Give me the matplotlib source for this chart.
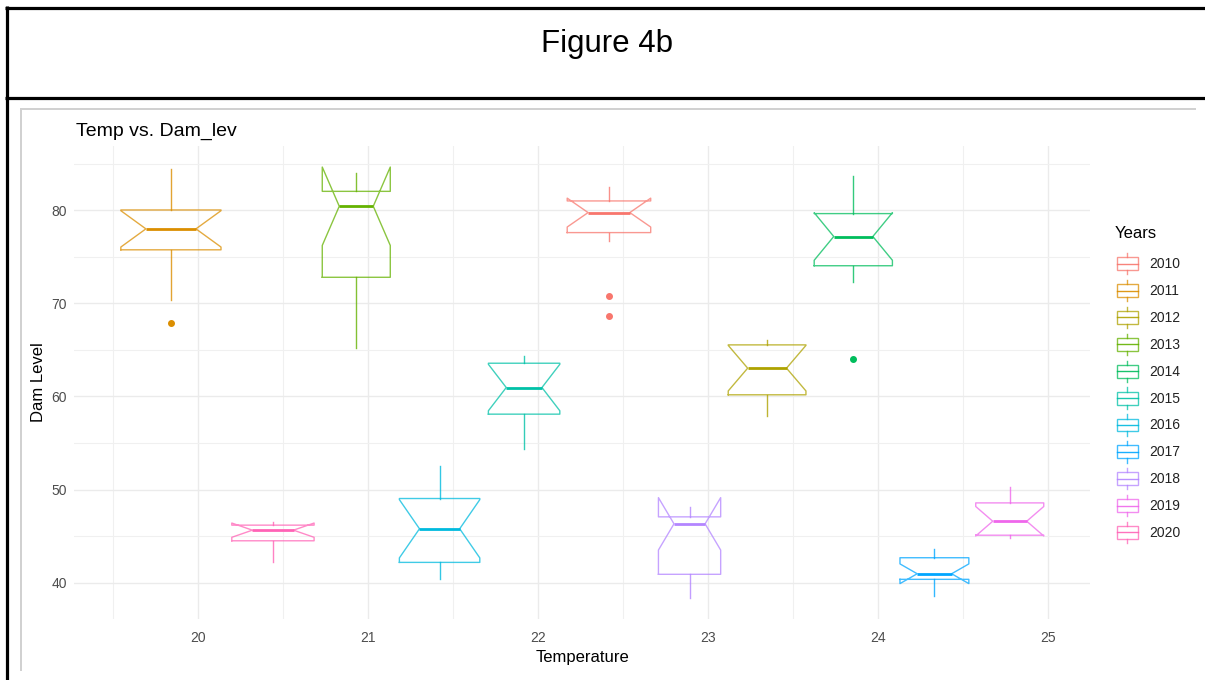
import numpy as np
import matplotlib.pyplot as plt
from matplotlib.lines import Line2D
from matplotlib.patches import Rectangle
from matplotlib.legend_handler import HandlerBase
from matplotlib.ticker import MultipleLocator

plt.rcParams['font.family'] = ['Liberation Sans', 'DejaVu Sans']

# monthly dam levels summarised per year, placed at the year's mean temperature
years = [2010, 2011, 2012, 2013, 2014, 2015, 2016, 2017, 2018, 2019, 2020]
temp = [22.416, 19.84, 23.346, 20.93, 23.853, 21.917, 21.42, 24.33, 22.89, 24.773, 20.44]
temp_span = [0.491, 0.589, 0.457, 0.40, 0.46, 0.42, 0.473, 0.405, 0.366, 0.40, 0.484]
med = [79.75, 78.0, 63.04, 80.43, 77.18, 60.96, 45.79, 40.96, 46.32, 46.6, 45.64]
q1 = [77.6, 75.75, 60.18, 72.8, 74.04, 58.1, 42.18, 40.36, 40.9, 45.1, 44.5]
q3 = [81.0, 80.03, 65.54, 82.03, 79.64, 63.57, 49.04, 42.68, 47.07, 48.57, 46.18]
whislo = [76.68, 70.4, 57.86, 65.2, 72.32, 54.36, 40.36, 38.57, 38.4, 44.75, 42.2]
whishi = [82.5, 84.4, 66.07, 84.0, 83.71, 64.36, 52.57, 43.57, 48.1, 50.29, 46.5]
outliers = [[70.79, 68.68], [67.85], [], [], [64.07], [], [], [], [], [], []]
n_months = 12

colours = ['#F8766D', '#DB8E00', '#AEA200', '#64B200', '#00BD5C', '#00C1A7',
           '#00BADE', '#00A6FF', '#B385FF', '#EF67EB', '#FF63B6']

W, H = 1205, 680


class BoxKey(HandlerBase):
    def create_artists(self, legend, orig_handle, xdescent, ydescent,
                       width, height, fontsize, trans):
        c = orig_handle.get_color()
        x0, y0 = -xdescent, -ydescent
        cx = x0 + width / 2
        b0, b1 = y0 + 0.2 * height, y0 + 0.8 * height
        arts = [
            Rectangle((x0, b0), width, b1 - b0, fill=False, ec=c, lw=1.0, alpha=0.75),
            Line2D([x0, x0 + width], [y0 + height / 2] * 2, color=c, lw=1.0, alpha=0.9),
            Line2D([cx, cx], [y0, b0], color=c, lw=1.0, alpha=0.75),
            Line2D([cx, cx], [b1, y0 + height], color=c, lw=1.0, alpha=0.75),
        ]
        for a in arts:
            a.set_transform(trans)
        return arts


fig = plt.figure(figsize=(W / 100, H / 100), dpi=100)
ax = fig.add_axes([74 / W, 1 - 619 / H, (1090 - 74) / W, (619 - 146) / H])

for i, yr in enumerate(years):
    half = 1.58 * (q3[i] - q1[i]) / np.sqrt(n_months)
    st = dict(med=med[i], q1=q1[i], q3=q3[i], whislo=whislo[i], whishi=whishi[i],
              cilo=med[i] - half, cihi=med[i] + half, fliers=outliers[i])
    c = colours[i]
    ax.bxp([st], positions=[temp[i]], widths=[temp_span[i]], shownotches=True,
           showcaps=False, manage_ticks=False,
           boxprops=dict(color=c, lw=1.0, alpha=0.75),
           whiskerprops=dict(color=c, lw=1.0, alpha=0.8),
           medianprops=dict(color=c, lw=2.0),
           flierprops=dict(marker='o', markerfacecolor=c, markeredgecolor=c,
                           markersize=4, linestyle='none'))

ax.set_xlim(19.27, 25.245)
ax.set_ylim(36.1, 86.9)
ax.xaxis.set_major_locator(MultipleLocator(1))
ax.xaxis.set_minor_locator(MultipleLocator(0.5))
ax.yaxis.set_major_locator(MultipleLocator(10))
ax.yaxis.set_minor_locator(MultipleLocator(5))
ax.grid(which='major', color='#EBEBEB', lw=1.0)
ax.grid(which='minor', color='#F0F0F0', lw=0.8)
ax.set_axisbelow(True)
for s in ax.spines.values():
    s.set_visible(False)
ax.tick_params(which='both', length=0, labelsize=10, labelcolor='#4D4D4D')
ax.tick_params(axis='x', pad=9)
ax.tick_params(axis='y', pad=5)
ax.set_xlabel('Temperature', fontsize=12, labelpad=3)
ax.set_ylabel('Dam Level', fontsize=12, labelpad=4)

fig.text(76 / W, 1 - 136 / H, 'Temp vs. Dam_lev', fontsize=14, va='baseline')
fig.text(607 / W, 1 - 52 / H, 'Figure 4b', fontsize=22.5, ha='center', va='baseline')

# legend: title set as its own text so the gap to the keys can be set
fig.text(1115 / W, 1 - 233 / H, 'Years', fontsize=12, va='center')
handles = [Line2D([], [], color=c) for c in colours]
leg = fig.legend(handles, [str(y) for y in years], handler_map={Line2D: BoxKey()},
                 loc='upper left', bbox_to_anchor=(1117 / W, 1 - 253 / H),
                 frameon=False, fontsize=10, handlelength=1.5,
                 handleheight=2.0, labelspacing=0.39, handletextpad=0.8,
                 borderpad=0, borderaxespad=0)
for t in leg.get_texts():
    t.set_color('#222222')

# page frame around the figure
def hline(y, x0, x1, c, lw):
    fig.add_artist(Line2D([x0 / W, x1 / W], [1 - y / H] * 2, color=c, lw=lw,
                          solid_capstyle='butt', transform=fig.transFigure))

def vline(x, y0, y1, c, lw):
    fig.add_artist(Line2D([x / W] * 2, [1 - y0 / H, 1 - y1 / H], color=c, lw=lw,
                          solid_capstyle='butt', transform=fig.transFigure))

hline(7.5, 5, W, 'black', 2.3)
hline(97.5, 5, W, 'black', 2.3)
vline(6.5, 6, H, 'black', 2.3)
hline(109, 20, 1196, '#D0D0D0', 1.4)
vline(21, 108, 671, '#D0D0D0', 1.4)

fig.savefig('out.png', dpi=100)
